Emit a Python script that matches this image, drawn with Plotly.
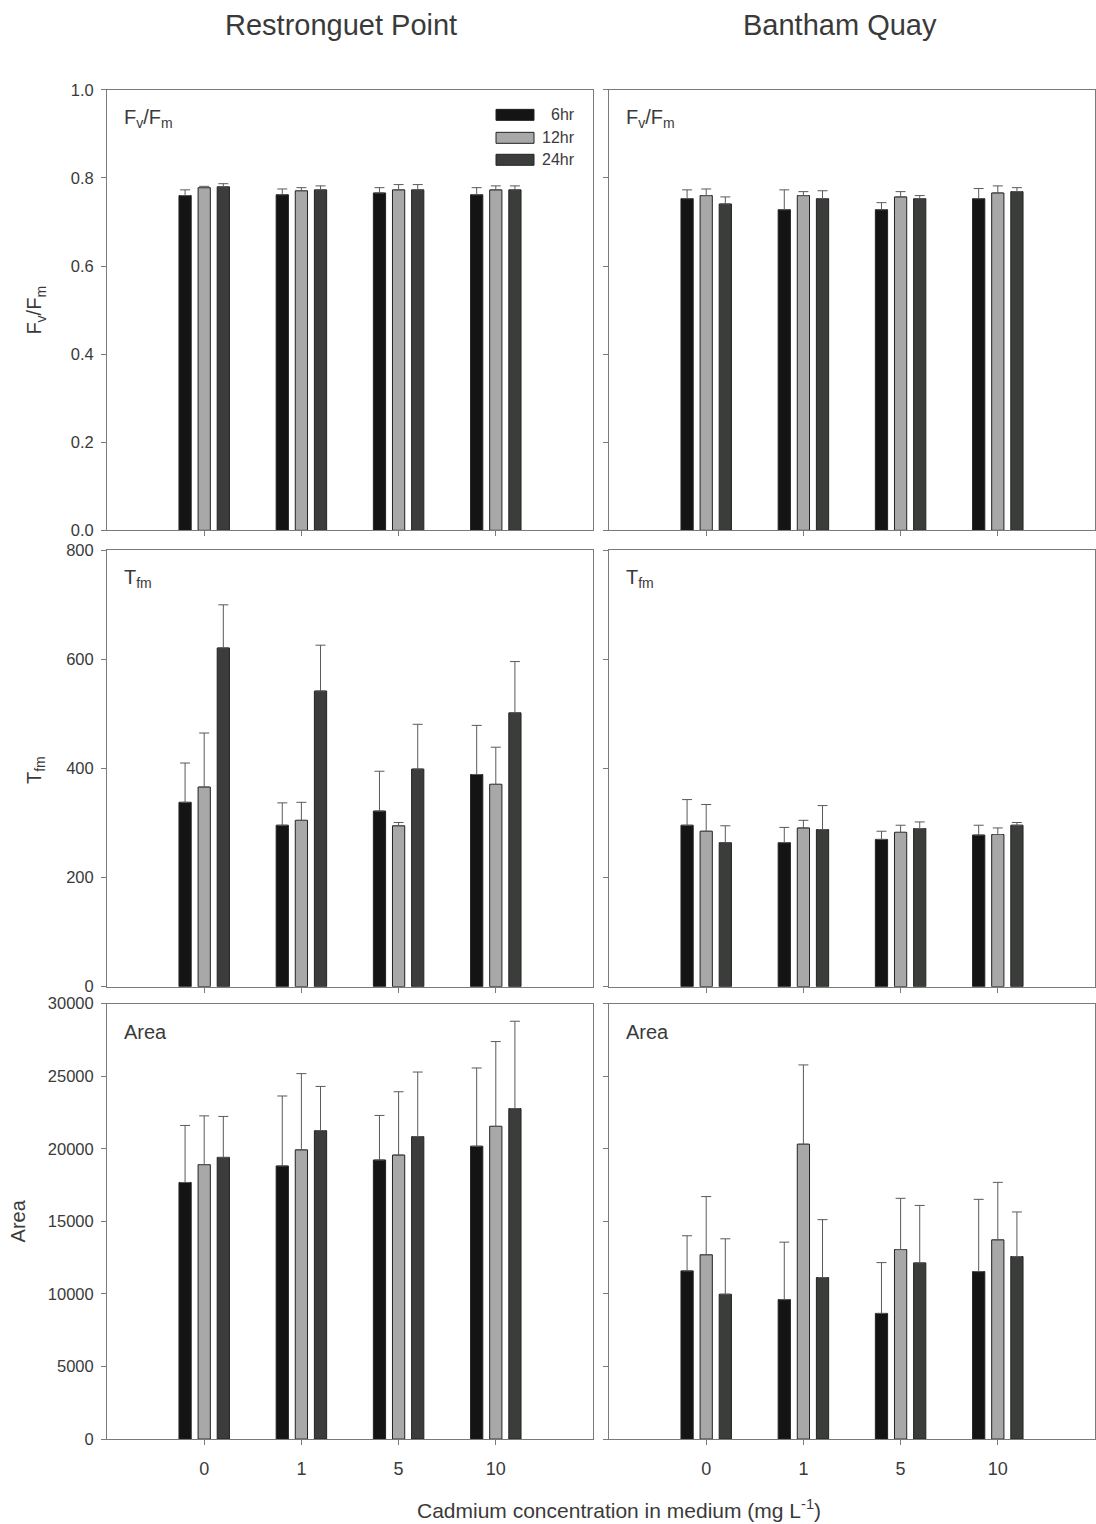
import plotly.graph_objects as go

# Treatment levels (Cd, mg/L) and exposure times
concs = ["0", "1", "5", "10"]
times = ["6hr", "12hr", "24hr"]

# Fv/Fm -- Restronguet Point
fvfm_rp_6 = [0.760, 0.762, 0.766, 0.762]
fvfm_rp_6_err = [0.013, 0.013, 0.012, 0.016]
fvfm_rp_12 = [0.778, 0.771, 0.773, 0.773]
fvfm_rp_12_err = [0.003, 0.007, 0.012, 0.009]
fvfm_rp_24 = [0.780, 0.773, 0.773, 0.773]
fvfm_rp_24_err = [0.007, 0.009, 0.012, 0.009]

# Fv/Fm -- Bantham Quay
fvfm_bq_6 = [0.753, 0.728, 0.728, 0.753]
fvfm_bq_6_err = [0.020, 0.045, 0.016, 0.023]
fvfm_bq_12 = [0.760, 0.760, 0.757, 0.766]
fvfm_bq_12_err = [0.015, 0.009, 0.012, 0.016]
fvfm_bq_24 = [0.741, 0.753, 0.753, 0.769]
fvfm_bq_24_err = [0.016, 0.018, 0.007, 0.009]

# Tfm -- Restronguet Point
tfm_rp_6 = [338, 296, 322, 389]
tfm_rp_6_err = [72, 41, 73, 90]
tfm_rp_12 = [366, 305, 295, 371]
tfm_rp_12_err = [99, 33, 6, 68]
tfm_rp_24 = [621, 542, 399, 502]
tfm_rp_24_err = [79, 84, 82, 94]

# Tfm -- Bantham Quay
tfm_bq_6 = [296, 264, 270, 278]
tfm_bq_6_err = [47, 28, 15, 18]
tfm_bq_12 = [285, 291, 283, 279]
tfm_bq_12_err = [49, 14, 13, 12]
tfm_bq_24 = [264, 288, 290, 296]
tfm_bq_24_err = [31, 44, 12, 5]

# Area -- Restronguet Point
area_rp_6 = [17680, 18820, 19230, 20180]
area_rp_6_err = [3930, 4820, 3070, 5390]
area_rp_12 = [18910, 19930, 19570, 21550]
area_rp_12_err = [3360, 5250, 4360, 5840]
area_rp_24 = [19410, 21250, 20840, 22770]
area_rp_24_err = [2820, 3050, 4450, 6020]

# Area -- Bantham Quay
area_bq_6 = [11590, 9610, 8660, 11540]
area_bq_6_err = [2420, 3960, 3500, 4980]
area_bq_12 = [12700, 20320, 13060, 13730]
area_bq_12_err = [4010, 5460, 3530, 3960]
area_bq_24 = [9980, 11130, 12140, 12580]
area_bq_24_err = [3820, 3990, 3960, 3070]

bar_colors = ["#141414", "#a8a8a8", "#3b3d3b"]
TXT = "#3a3a3a"
LINE = "#7a7a7a"
FONT = "Liberation Sans, Arial, sans-serif"
W, H = 1096, 1524


def px_x(x):
    return x / W


def px_y(y):
    # page pixel (from top) -> paper fraction; the plot area sits 8px down the page
    return 1 - (y - 8) / (H - 16)


panels = [
    ("", [fvfm_rp_6, fvfm_rp_12, fvfm_rp_24], [fvfm_rp_6_err, fvfm_rp_12_err, fvfm_rp_24_err]),
    ("2", [fvfm_bq_6, fvfm_bq_12, fvfm_bq_24], [fvfm_bq_6_err, fvfm_bq_12_err, fvfm_bq_24_err]),
    ("3", [tfm_rp_6, tfm_rp_12, tfm_rp_24], [tfm_rp_6_err, tfm_rp_12_err, tfm_rp_24_err]),
    ("4", [tfm_bq_6, tfm_bq_12, tfm_bq_24], [tfm_bq_6_err, tfm_bq_12_err, tfm_bq_24_err]),
    ("5", [area_rp_6, area_rp_12, area_rp_24], [area_rp_6_err, area_rp_12_err, area_rp_24_err]),
    ("6", [area_bq_6, area_bq_12, area_bq_24], [area_bq_6_err, area_bq_12_err, area_bq_24_err]),
]

xpos = list(range(len(concs)))
fig = go.Figure()
for suffix, vals, errs in panels:
    for i, t in enumerate(times):
        fig.add_trace(go.Bar(
            x=xpos, y=vals[i], name=t, showlegend=False,
            xaxis="x" + suffix, yaxis="y" + suffix,
            marker=dict(color=bar_colors[i], line=dict(color="#222222", width=1)),
            error_y=dict(type="data", array=errs[i], arrayminus=[0] * len(concs),
                         symmetric=False, color="#5a5a5a", thickness=1, width=5),
        ))

colx = [(px_x(107), px_x(593)), (px_x(609), px_x(1095))]
rowy = [(px_y(530), px_y(89)), (px_y(987), px_y(550)), (px_y(1440), px_y(1004))]
yranges = [[0, 1.0], [0, 800], [0, 30000]]
ydtick = [0.2, 200, 5000]
yfmt = [".1f", "d", "d"]

layout = dict(
    width=W, height=H, margin=dict(l=0, r=0, t=0, b=0),
    paper_bgcolor="white", plot_bgcolor="white",
    barmode="group", bargap=0.41, bargroupgap=0.36,
    font=dict(family=FONT, color=TXT, size=16),
    showlegend=False,
)
k = 0
for r in range(3):
    for c in range(2):
        k += 1
        s = "" if k == 1 else str(k)
        layout["xaxis" + s] = dict(
            domain=list(colx[c]), anchor="y" + s, range=[-1, 4],
            tickvals=xpos, ticktext=concs, showticklabels=(r == 2),
            ticks="outside", ticklen=5, tickcolor=LINE, tickwidth=1,
            showline=True, linecolor=LINE, linewidth=1, mirror=True,
            showgrid=False, zeroline=False, ticklabelstandoff=8,
            tickfont=dict(size=18, color=TXT),
        )
        layout["yaxis" + s] = dict(
            domain=list(rowy[r]), anchor="x" + s, range=yranges[r],
            dtick=ydtick[r], tick0=0, tickformat=yfmt[r], showticklabels=(c == 0),
            ticks="outside", ticklen=5, tickcolor=LINE, tickwidth=1,
            showline=True, linecolor=LINE, linewidth=1, mirror=True,
            showgrid=False, zeroline=False, ticklabelstandoff=4,
            tickfont=dict(size=16.5, color=TXT),
        )
fig.update_layout(**layout)

ann = []
# column titles
for txt, cx in [("Restronguet Point", 341), ("Bantham Quay", 840)]:
    ann.append(dict(text=txt, x=px_x(cx), y=px_y(24), xref="paper", yref="paper",
                    showarrow=False, font=dict(size=29, color=TXT), xanchor="center", yanchor="middle"))
# in-panel labels
labels = ["F<sub>v</sub>/F<sub>m</sub>", "T<sub>fm</sub>", "Area"]
k = 0
for r in range(3):
    for c in range(2):
        k += 1
        s = "" if k == 1 else str(k)
        ann.append(dict(text=labels[r], x=0.031, y=0.935, xref="x" + s + " domain", yref="y" + s + " domain",
                        showarrow=False, xanchor="left", yanchor="middle", font=dict(size=20, color=TXT)))
# y-axis titles
ytitles = [("F<sub>v</sub>/F<sub>m</sub>", 36, 310), ("T<sub>fm</sub>", 36, 770), ("Area", 18, 1222)]
for txt, px, py in ytitles:
    ann.append(dict(text=txt, x=px_x(px), y=px_y(py), xref="paper", yref="paper", textangle=-90,
                    showarrow=False, xanchor="center", yanchor="middle", font=dict(size=20, color=TXT)))
# x-axis title
ann.append(dict(text="Cadmium concentration in medium (mg L<sup>-1</sup>)", x=px_x(619), y=px_y(1510),
                xref="paper", yref="paper", showarrow=False, xanchor="center", yanchor="middle",
                font=dict(size=21, color=TXT)))

# legend key in the upper-left panel
shapes = []
key_y = [114, 137, 159]
for i, t in enumerate(times):
    yc = key_y[i]
    shapes.append(dict(type="rect", xref="paper", yref="paper",
                       x0=px_x(496), x1=px_x(534), y0=px_y(yc + 5.5), y1=px_y(yc - 5.5),
                       fillcolor=bar_colors[i], line=dict(color="#222222", width=1)))
    ann.append(dict(text=t, x=px_x(577), y=px_y(yc), xref="paper", yref="paper", showarrow=False,
                    xanchor="right", yanchor="middle", font=dict(size=16, color=TXT)))

fig.update_layout(annotations=ann, shapes=shapes)
fig.write_html("out.html")
